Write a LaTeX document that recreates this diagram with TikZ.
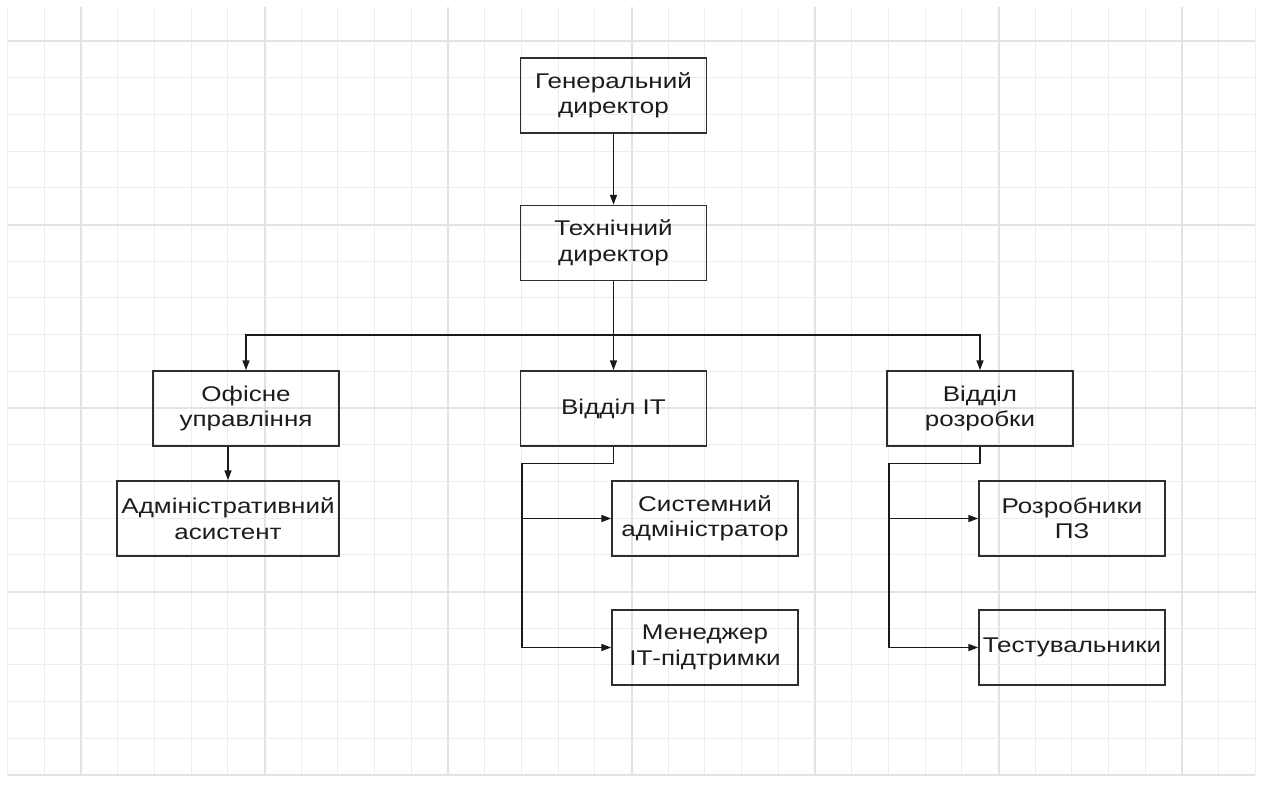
\documentclass[tikz,border=0pt]{standalone}
\usepackage{fontspec}
\setmainfont[FakeStretch=1.22]{Liberation Sans}
\usetikzlibrary{arrows.meta}
\definecolor{gridminor}{HTML}{EDEDED}
\definecolor{gridmajor}{HTML}{E3E3E3}
\definecolor{boxc}{HTML}{2E2E2E}
\definecolor{txt}{HTML}{1C1C1C}
\tikzset{
  orgbox/.style={draw=boxc, line width=1.5pt, minimum height=75pt,
    minimum width=186pt, align=center, inner sep=0pt, text=txt,
    font=\fontsize{21.3}{25.5}\selectfont},
  conn/.style={draw=black!90, line width=1.6pt},
  arr/.style={conn, -{Triangle[length=10pt,width=7pt]}},
}
\begin{document}
\begin{tikzpicture}[x=1pt,y=-1pt]
\fill[white] (0,0) rectangle (1262,792);
\useasboundingbox (0,0) rectangle (1262,792);
% grid
\foreach \k in {0,...,34}{
  \pgfmathsetmacro{\xx}{7.6+36.7*\k}
  \pgfmathtruncatemacro{\m}{mod(\k,5)}
  \ifnum\m=2
    \draw[gridmajor, line width=2pt] (\xx,7) -- (\xx,775);
  \else
    \draw[gridminor, line width=1pt] (\xx,7) -- (\xx,775);
  \fi
}
\foreach \k in {1,...,21}{
  \pgfmathsetmacro{\yy}{4.3+36.7*\k}
  \pgfmathtruncatemacro{\m}{mod(\k,5)}
  \ifnum\m=1
    \draw[gridmajor, line width=2pt] (7.6,\yy) -- (1255.4,\yy);
  \else
    \draw[gridminor, line width=1pt] (7.6,\yy) -- (1255.4,\yy);
  \fi
}
% nodes
\node[orgbox] (gd) at (613.5,95.5) {Генеральний\\директор};
\node[orgbox] (td) at (613.5,243) {Технічний\\директор};
\node[orgbox] (of) at (246,408.5) {Офісне\\управління};
\node[orgbox] (it) at (613.5,408.5) {Відділ ІТ};
\node[orgbox] (rd) at (980,408.5) {Відділ\\розробки};
\node[orgbox, minimum width=222pt] (adm) at (228,518.5) {Адміністративний\\асистент};
\node[orgbox] (sys) at (705,518.5) {Системний\\адміністратор};
\node[orgbox] (mgr) at (705,647.5) {Менеджер\\ІТ-підтримки};
\node[orgbox] (dev) at (1072,518.5) {Розробники\\ПЗ};
\node[orgbox] (tst) at (1072,647.5) {Тестувальники};
% connectors
\coordinate (bus) at (613.5,335);
\coordinate (itj) at (521.7,463.3);
\coordinate (rdj) at (889,463.3);
\draw[arr] (gd.south) -- (td.north);
\draw[conn] (td.south) -- (bus);
\draw[arr] (bus) -| (of.north);
\draw[arr] (bus) -- (it.north);
\draw[arr] (bus) -| (rd.north);
\draw[arr] (adm.north |- of.south) -- (adm.north);
\draw[conn] (it.south) |- (itj) -- (itj |- mgr.west);
\draw[arr] (itj |- sys.west) -- (sys.west);
\draw[arr] (itj |- mgr.west) -- (mgr.west);
\draw[conn] (rd.south) |- (rdj) -- (rdj |- tst.west);
\draw[arr] (rdj |- dev.west) -- (dev.west);
\draw[arr] (rdj |- tst.west) -- (tst.west);
\end{tikzpicture}
\end{document}
